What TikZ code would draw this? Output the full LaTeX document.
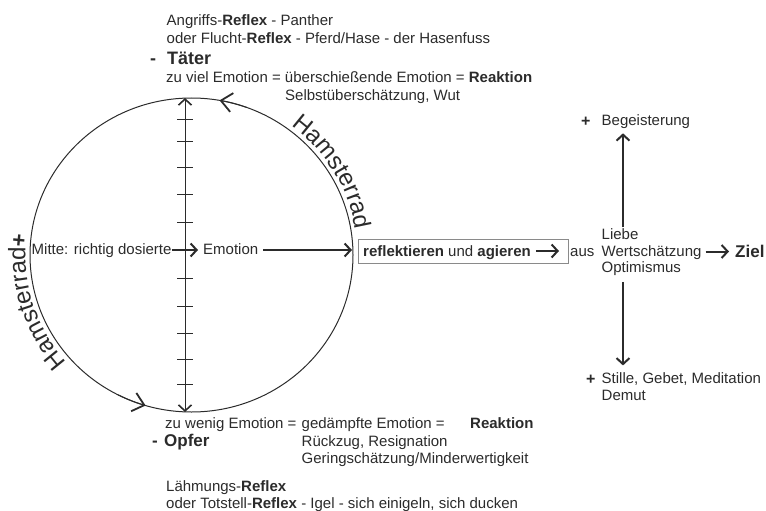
\documentclass[tikz,border=0pt]{standalone}
\usepackage{fontspec}
\setmainfont{Liberation Sans}
\usetikzlibrary{arrows.meta,decorations.text,calc}
\definecolor{ink}{HTML}{2B2B2B}
\definecolor{boxgray}{HTML}{8A8A8A}
\begin{document}
\begin{tikzpicture}[x=1pt,y=-1pt,
  txt/.style={anchor=base west, inner sep=0pt, text=ink, font=\fontsize{15}{18}\selectfont},
  bigtxt/.style={anchor=base west, inner sep=0pt, text=ink, font=\fontsize{18}{20}\selectfont\bfseries},
  midtxt/.style={anchor=base west, inner sep=0pt, text=ink, font=\fontsize{17}{20}\selectfont\bfseries},
  plustxt/.style={anchor=base west, inner sep=0pt, text=ink, font=\fontsize{16}{18}\selectfont\bfseries},
  thickarr/.style={draw=ink, line width=2pt, -{Straight Barb[length=6pt,width=13pt,line width=2pt]}},
  axisarr/.style={draw=ink, line width=1pt, {Straight Barb[length=6pt,width=13pt,line width=1.6pt]}-{Straight Barb[length=6pt,width=13pt,line width=1.6pt]}},
  circarr/.style={draw=ink, line width=1pt, -{Straight Barb[length=11pt,width=19pt,line width=1.8pt]}},
  ticks/.style={draw=ink, line width=1pt},
  wheel/.style={draw=ink, line width=1pt}
]
\useasboundingbox (0,0) rectangle (766,511);

% circle (Hamsterrad)
\coordinate (C) at (191.5,255);
\draw[wheel] (C) ellipse [x radius=161.5pt, y radius=157pt];
\draw[circarr] ($(C)+(70:161.5pt and 157pt)$) arc[start angle=70, end angle=80, x radius=161.5pt, y radius=157pt];
\draw[circarr] ($(C)+(243:161.5pt and 157pt)$) arc[start angle=243, end angle=253.5, x radius=161.5pt, y radius=157pt];

% Hamsterrad labels along the wheel
\path[decorate, decoration={text along path, text color=ink, text={|\fontsize{24}{24}\selectfont|Hamsterrad}, text align=center}]
  ($(C)+(62:166pt and 162pt)$) arc[start angle=62, end angle=0, x radius=166pt, y radius=162pt];
\path[decorate, decoration={text along path, text color=ink, text={|\fontsize{24}{24}\selectfont|Hamsterrad|\fontsize{22}{22}\selectfont\bfseries|+}, text align=center}]
  ($(C)+(228:166pt and 162pt)$) arc[start angle=228, end angle=166, x radius=166pt, y radius=162pt];

% vertical axis with ticks
\coordinate (axt) at (185,98);
\coordinate (axb) at (185,412);
\draw[axisarr] (axb) -- (axt);
\foreach \ty in {119,141,167,194,222,278,306,333,359,384}
  \draw[ticks] (177,\ty) -- (193,\ty);

% top texts
\node[txt] (l1) at (166.5,26) {Angriffs-\textbf{Reflex} - Panther};
\node[txt] (l2) at (166.5,44) {oder Flucht-\textbf{Reflex} - Pferd/Hase - der Hasenfuss};
\node[bigtxt] (tminus) at (150,65) {-};
\node[bigtxt] (taeter) at (167,65) {Täter};
\node[txt] (tl1) at (166,83) {zu viel Emotion = überschießende Emotion = \textbf{Reaktion}};
\node[txt] (tl2) at (285,100) {Selbstüberschätzung, Wut};

% bottom texts
\node[txt] (bl1) at (165,428) {zu wenig Emotion =};
\node[txt] (bl2) at (301.5,428) {gedämpfte Emotion =};
\node[txt] (bl3) at (470,428) {\textbf{Reaktion}};
\node[bigtxt, font=\fontsize{17}{20}\selectfont\bfseries] (ominus) at (152,446) {-};
\node[bigtxt, font=\fontsize{17}{20}\selectfont\bfseries] (opfer) at (164,446) {Opfer};
\node[txt] (bl4) at (301.5,446) {Rückzug, Resignation};
\node[txt] (bl5) at (301.5,463) {Geringschätzung/Minderwertigkeit};
\node[txt] (bl6) at (166,491) {Lähmungs-\textbf{Reflex}};
\node[txt] (bl7) at (166,508) {oder Totstell-\textbf{Reflex} - Igel - sich einigeln, sich ducken};

% middle row
\coordinate (row) at (0,250);
\node[txt] (mitte) at (31.5,254.5) {Mitte: richtig dosierte};
\node[txt] (emo) at (203,254.5) {Emotion};
\coordinate (rc) at (352,250);
\draw[thickarr, shorten >=5pt] (mitte.east |- row) -- (emo.west |- row);
\draw[thickarr, shorten <=5pt] (emo.east |- row) -- (rc);

\node[draw=boxgray, line width=0.8pt, minimum width=210pt, minimum height=24pt, inner sep=0pt] (box) at (463,251) {};
\node[txt] (refl) at (363,256) {\textbf{reflektieren} und \textbf{agieren}};
\coordinate (row2) at (0,251);
\coordinate (bxarr) at (559,251);
\draw[thickarr, shorten <=5pt] (refl.east |- row2) -- (bxarr);

\node[txt] (aus) at (570,256) {aus};
\node[txt] (liebe) at (601.5,239.5) {Liebe};
\node[txt] (wert) at (601.5,256) {Wertschätzung};
\node[txt] (opt) at (601.5,272.5) {Optimismus};
\coordinate (zielc) at (729,251.5);
\draw[thickarr, shorten <=4pt] (wert.east |- zielc) -- (zielc);
\node[midtxt] (ziel) at (735,257) {Ziel};

% right column
\coordinate (vx) at (623,0);
\node[plustxt] (p1) at (581,126) {+};
\node[txt] (beg) at (601.5,125) {Begeisterung};
\node[plustxt] (p2) at (586,384) {+};
\node[txt] (stille) at (601.5,383.5) {Stille, Gebet, Meditation};
\node[txt] (demut) at (601.5,400) {Demut};
\draw[thickarr, shorten <=1pt, shorten >=5pt] (liebe.north -| vx) -- (beg.south -| vx);
\draw[thickarr, shorten <=6pt, shorten >=7pt] (opt.south -| vx) -- (stille.north -| vx);
\end{tikzpicture}
\end{document}
